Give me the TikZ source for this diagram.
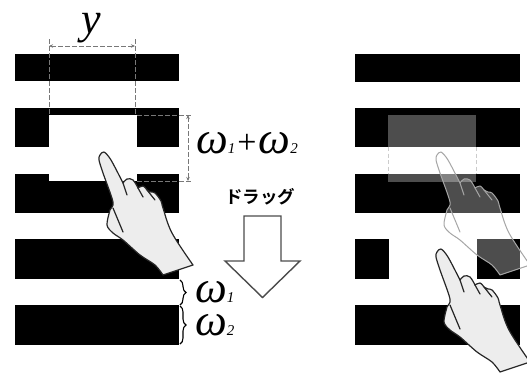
\documentclass[tikz,border=0pt]{standalone}
\usepackage{fontspec}
\setmainfont{Liberation Serif}
\newfontfamily\jpfont{Noto Sans CJK JP}[BoldFont={Noto Sans CJK JP Bold}]
\usetikzlibrary{arrows.meta,decorations.pathreplacing}
\definecolor{dashgray}{HTML}{787878}
\definecolor{handfill}{HTML}{EDEDED}
\tikzset{
  barshape/.style={fill=black,draw=none},
  dim/.style={draw=dashgray,line width=1pt,dash pattern=on 4.5pt off 2.5pt},
  dimarrow/.style={dim,{Stealth[length=4pt,width=3.5pt]}-{Stealth[length=4pt,width=3.5pt]}},
  bracestyle/.style={draw=black,line width=1.1pt,decorate,decoration={brace,amplitude=6pt}},
  handsolid/.style={fill=handfill,draw=black!85,line width=1.2pt,line join=round},
  handghost/.style={fill=white,fill opacity=0.3,draw=black!35,draw opacity=1,line width=1pt,line join=round},
  handline/.style={draw=black!85,line width=1.2pt,line cap=round},
  ghostline/.style={draw=black!35,line width=1pt,line cap=round},
  dragarrow/.style={draw=black!70,line width=1.4pt,fill=white,line join=miter},
  mathlabel/.style={inner sep=0pt,font=\fontsize{45}{45}\selectfont\itshape,anchor=base west}
}
\newcommand{\handoutline}{plot[smooth,tension=.5] coordinates{(163,275)(155,265)(140,255)(123,240)(113,233)(107,225)(110,210)(113,202)(103,173)(99,160)(100,155)(104,152)(111,160)(123,183)}
  -- plot[smooth,tension=.6] coordinates{(123,183)(127,179)(133,180)(138,188)}
  -- plot[smooth,tension=.6] coordinates{(138,188)(143,186)(147,190)}
  -- plot[smooth,tension=.6] coordinates{(147,190)(151,192)(155,193)(161,201)(163,208)(172,233)(193,265)} -- cycle}
\newcommand{\fingerlines}{(123,183) -- (127,195) (138,188) -- (143,197) (147,190) -- (155,200) (113,208) -- (123,232)}
\begin{document}
\begin{tikzpicture}[x=1pt,y=-1pt]
\useasboundingbox (0,0) rectangle (527,376);
\clip (0,0) rectangle (527,376);
% left bars
\fill[barshape] (15,54) rectangle (179,81);
\fill[barshape] (15,108) rectangle (179,147);
\fill[barshape] (15,174) rectangle (179,213);
\fill[barshape] (15,239) rectangle (179,279);
\fill[barshape] (15,305) rectangle (179,345);
\fill[white] (49,115) rectangle (137,147);
\fill[white] (137,147) rectangle (49,181);
% y dimension
\coordinate (yl) at (49,46);
\coordinate (yr) at (135,46);
\coordinate (ylt) at (49,39);
\coordinate (yrt) at (135,39);
\coordinate (ylb) at (49,115);
\coordinate (yrb) at (135,115);
\draw[dimarrow] (yl) -- (yr);
\draw[dim] (ylt) -- (ylb);
\draw[dim] (yrt) -- (yrb);
\node[inner sep=0pt,font=\fontsize{44}{44}\selectfont\itshape,anchor=base] (ylabel) at (91,33) {y};
% w1+w2 dimension
\coordinate (wt0) at (137,115);
\coordinate (wt1) at (191,115);
\coordinate (wb0) at (137,181);
\coordinate (wb1) at (191,181);
\coordinate (wat) at (188,115);
\coordinate (wab) at (188,181);
\draw[dim] (wt0) -- (wt1);
\draw[dim] (wb0) -- (wb1);
\draw[dimarrow] (wat) -- (wab);
\node[mathlabel] (wsum) at (196,153) {ω{\fontsize{15}{15}\selectfont 1}\kern2pt{\upshape\fontsize{34}{34}\selectfont +}\kern2pt ω{\fontsize{15}{15}\selectfont 2}};
% drag label and arrow
\node[inner sep=0pt,font=\jpfont\bfseries\fontsize{17.500}{17.500}\selectfont] (drag) at (260,197) {ドラッグ};
\draw[dragarrow] (244,216) -- (281,216) -- (281,261) -- (300,261) -- (262.500,297.500) -- (225,261) -- (244,261) -- cycle;
% braces
\coordinate (b1t) at (180,280);
\coordinate (b1b) at (180,305);
\coordinate (b2t) at (180,306);
\coordinate (b2b) at (180,344);
\draw[bracestyle] (b1t) -- (b1b);
\draw[bracestyle] (b2t) -- (b2b);
\node[mathlabel] (w1) at (195,302) {ω{\fontsize{15}{15}\selectfont 1}};
\node[mathlabel] (w2) at (195,335) {ω{\fontsize{15}{15}\selectfont 2}};
% left hand
\draw[handsolid] \handoutline;
\draw[handline] \fingerlines;
% right bars
\fill[barshape] (355,54) rectangle (520,82);
\fill[barshape] (355,108) rectangle (520,147);
\fill[barshape] (355,174) rectangle (520,213);
\fill[barshape] (355,239) rectangle (389,279);
\fill[barshape] (477,239) rectangle (520,279);
\fill[barshape] (355,305) rectangle (520,345);
\fill[white,opacity=0.3] (388,115) rectangle (476,182);
\coordinate (gl0) at (388,147);
\coordinate (gl1) at (388,174);
\coordinate (gr0) at (476,147);
\coordinate (gr1) at (476,174);
\draw[draw=black!20,line width=0.8pt,dash pattern=on 4pt off 2.5pt] (gl0) -- (gl1);
\draw[draw=black!20,line width=0.8pt,dash pattern=on 4pt off 2.5pt] (gr0) -- (gr1);
% ghost hand
\begin{scope}[shift={(337,0)}]
\draw[handghost] \handoutline;
\draw[ghostline] \fingerlines;
\end{scope}
% lower right hand
\begin{scope}[shift={(337,97)}]
\draw[handsolid] \handoutline;
\draw[handline] \fingerlines;
\end{scope}
\end{tikzpicture}
\end{document}
